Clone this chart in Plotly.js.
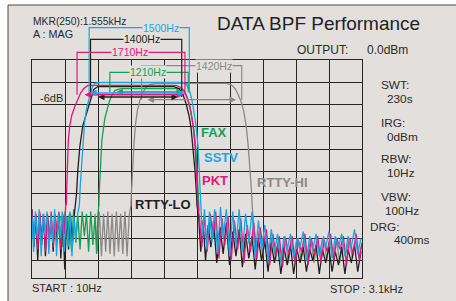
<!DOCTYPE html>
<html><head><meta charset="utf-8">
<script src="https://cdn.plot.ly/plotly-3.0.1.min.js"></script>
<style>html,body{margin:0;padding:0;background:#fff;}#chart{width:456px;height:301px;}</style>
</head><body><div id="chart"></div>
<script>
// ---- axis scale ----
const freqStart = 10, freqStop = 3100, freqDiv = 309;
const levelTop = 0, levelBottom = -97.8, levelDiv = 10;

// ---- series names / colours ----
const seriesNames = ['RTTY-HI', 'FAX', 'RTTY-LO', 'PKT', 'SSTV'];
const seriesColors = ['#8a8a8a', '#13a153', '#231f1f', '#e4157f', '#1aa6e3'];

// ---- RTTY-HI (gray) ----
const rttyHiX = [600,620,640,660,680,700,720,740,760,780,800,820,840,860,880,900,920,932,
  936,941,950,964,978,997,1020,1049,1077,1114,1161,1827,1874,1912,1940,1968,1991,2015,2034,2053,2067,2071,
  2085,2110,2140,2170,2200,2230,2260,2290,2320,2350,2380,2410,2440,2470,2500,2530,2560,2590,2620,2650,2680,2710,2740,2770,2800,2830,2860,2890,2920,2950,2980,3010,3040,3070,3100];
const rttyHiY = [-69,-86,-68,-88,-69,-86,-68,-87,-69,-88,-68,-86,-69,-87,-68,-88,-70,-66,
  -65.2,-59.9,-49.5,-38.3,-29.4,-22.6,-18.2,-14.6,-12.3,-11,-10.5,-10.5,-11,-12.8,-15.5,-18.6,-22.6,-29.4,-38.3,-49.5,-59.9,-65.2,
  -74,-86,-76,-88,-77,-87,-79,-90,-80,-88,-79,-91,-81,-89,-80,-90,-82,-88,-80,-91,-82,-87,-79,-90,-81,-88,-80,-91,-82,-87,-80,-89,-81,-88,-82];

// ---- FAX (green) ----
const faxX = [280,300,320,340,360,380,400,420,440,460,480,500,520,540,560,580,600,615,628,
  636,639,650,664,692,711,734,758,786,814,851,1396,1433,1461,1490,1508,1527,1546,1560,1569,1574];
const faxY = [-70,-84,-68,-80,-69,-86,-67,-82,-70,-85,-68,-79,-69,-86,-68,-83,-70,-87,-69,
  -65.2,-59.9,-47.3,-36.1,-26.2,-22.6,-18.6,-15.9,-13.7,-13.2,-12.8,-12.8,-13.7,-16.4,-20.9,-26.2,-31.6,-40.6,-51.8,-60.8,-67.5];

// ---- RTTY-LO (black) ----
const rttyLoX = [10,28,46,64,82,100,118,136,154,172,190,208,226,244,262,280,298,317,335,352,370,388,405,415,
  420,427,439,457,486,514,542,565,589,626,1339,1386,1424,1452,1480,1499,1518,1536,1550,1555,
  1570,1590,1612,1635,1660,1685,1710,1740,1770,1800,1830,1860,1890,1920,1950,1980,2010,2040,2070,2100,2130,2160,2190,2220,2250,2280,2310,2340,2370,2400,2430,2460,2490,2520,2550,2580,2610,2640,2670,2700,2730,2760,2790,2820,2850,2880,2910,2940,2970,3000,3030,3060,3090];
const rttyLoY = [-67,-84,-70,-90,-69,-83,-70,-88,-69,-81,-71,-86,-70,-82,-69,-89,-71,-94,-70,-85,-69,-83,-70,-66,
  -65.2,-59.9,-49.5,-39.2,-29.4,-24.9,-20.4,-16.4,-13.2,-11.9,-11.9,-12.8,-15.5,-19.5,-24.9,-30.3,-39.2,-49.5,-59.9,-65.2,
  -70,-86,-72,-90,-74,-84,-72,-91,-75,-87,-73,-92,-77,-88,-76,-93,-78,-89,-79,-94,-80,-90,-81,-95,-82,-91,-83,-96,-84,-92,-83,-96,-85,-91,-84,-95,-85,-90,-83,-96,-85,-91,-84,-95,-86,-92,-84,-96,-85,-91,-83,-95,-86];

// ---- PKT (magenta) ----
const pktX = [10,28,46,64,82,100,118,136,154,172,190,208,226,244,262,280,298,314,326,
  331,336,340,350,364,382,411,439,467,495,533,1358,1405,1443,1471,1499,1518,1536,1550,1560,1564,
  1580,1600,1625,1650,1680,1705,1730,1760,1790,1815,1845,1875,1905,1935,1965,1995,2025,2055,2085,2115,2145,2175,2205,2235,2265,2295,2325,2355,2385,2415,2445,2475,2505,2535,2565,2595,2625,2655,2685,2715,2745,2775,2805,2835,2865,2895,2925,2955,2985,3015,3045,3075,3100];
const pktY = [-68,-82,-69,-85,-68,-79,-69,-86,-70,-80,-68,-84,-69,-77,-68,-85,-69,-78,-64,
  -65.2,-56.3,-45.1,-36.1,-29.4,-24.9,-20.9,-17.3,-14.6,-12.8,-11.4,-11.4,-12.3,-14.6,-18.2,-23.5,-29.4,-38.3,-49.5,-59.9,-65.2,
  -72,-84,-70,-86,-69,-80,-68,-89,-71,-83,-70,-90,-72,-85,-71,-91,-74,-86,-73,-89,-75,-84,-76,-92,-78,-88,-79,-93,-80,-87,-79,-91,-81,-86,-78,-92,-80,-87,-79,-91,-81,-86,-78,-90,-80,-85,-79,-92,-80,-87,-78,-90,-82];

// ---- SSTV (cyan) ----
const sstvX = [10,25,42,60,78,96,114,132,150,168,186,204,222,240,258,276,294,312,330,348,366,384,402,420,438,448,
  453,462,476,490,504,523,548,570,598,645,1424,1461,1490,1508,1527,1546,1565,1579,1583,1593,
  1605,1625,1648,1672,1695,1720,1748,1775,1800,1830,1860,1890,1920,1950,1980,2010,2040,2070,2100,2130,2160,2190,2220,2250,2280,2310,2340,2370,2400,2430,2460,2490,2520,2550,2580,2610,2640,2670,2700,2730,2760,2790,2820,2850,2880,2910,2940,2970,3000,3030,3060,3090];
const sstvY = [-70,-86,-68,-80,-67,-88,-69,-78,-68,-87,-70,-82,-67,-88,-69,-80,-68,-86,-70,-84,-68,-88,-70,-81,-69,-66,
  -65.2,-56.3,-45.1,-36.1,-27.1,-21.3,-16.8,-12.8,-10.5,-10.1,-10.1,-11.4,-14.6,-18.2,-23.5,-29.4,-39.2,-51.8,-60.8,-65.2,
  -79,-67,-85,-68,-82,-67,-87,-66,-80,-67,-88,-68,-83,-67,-86,-69,-82,-68,-89,-72,-85,-74,-90,-76,-86,-78,-91,-79,-85,-78,-89,-80,-84,-77,-90,-79,-85,-78,-88,-80,-84,-77,-89,-79,-84,-78,-88,-79,-84,-76,-87,-80];

// ---- -6 dB bandwidth markers (order matches seriesNames) ----
const bwLabels   = ['1420Hz', '1210Hz', '1400Hz', '1710Hz', '1500Hz'];
const bwLeftHz   = [1036, 739, 558, 432, 545];
const bwRightHz  = [1974, 1473, 1412, 1442, 1483];
const bwLabelHz  = [1714, 1098, 1044, 927, 1217];
const bwArrowDb  = [-17.8, -14.3, -16.6, -15.6, -14.8];
const bwArrowFrom = [1077, 786, 614, 488, 540];
const bwArrowTo   = [1921, 1424, 1377, 1430, 1440];

// ---- text ----
const infoLabels = ['SWT:', 'IRG:', 'RBW:', 'VBW:', 'DRG:'];
const infoValues = ['230s', '0dBm', '10Hz', '100Hz', '400ms'];

// ================= drawing =================
const FONT = 'Liberation Sans, Arial, Helvetica, sans-serif';
const PANEL = '#e2dfdc';
const L = 32, T = 60, W = 330, H = 218;
const px = x => (x - L) / W;
const py = y => (T + H - y) / H;
const dbToPaper = d => (d - levelBottom) / (levelTop - levelBottom);

const xs = [rttyHiX, faxX, rttyLoX, pktX, sstvX];
const ys = [rttyHiY, faxY, rttyLoY, pktY, sstvY];
const traces = xs.map((x, i) => ({
  type: 'scatter', mode: 'lines', x: x, y: ys[i], name: seriesNames[i],
  line: {color: seriesColors[i], width: 1.3}, hoverinfo: 'skip', showlegend: false
}));

const bracketTopPx = [65.7, 72.3, 39.3, 52.3, 27.7];
const shapes = [{
  type: 'rect', xref: 'paper', yref: 'paper', layer: 'below',
  x0: px(8), x1: px(470), y0: py(310), y1: py(5),
  fillcolor: PANEL, line: {color: '#4a4a4a', width: 1}
}];
const annotations = [];
seriesNames.forEach((n, i) => {
  const yt = py(bracketTopPx[i]), yb = dbToPaper(bwArrowDb[i]);
  shapes.push({
    type: 'path', xref: 'x', yref: 'paper', layer: 'above',
    path: `M ${bwLeftHz[i]},${yb} L ${bwLeftHz[i]},${yt} L ${bwRightHz[i]},${yt} L ${bwRightHz[i]},${yb}`,
    line: {color: seriesColors[i], width: 1.2}
  });
  annotations.push({
    xref: 'x', yref: 'paper', x: bwLabelHz[i], y: yt, text: bwLabels[i], showarrow: false,
    bgcolor: PANEL, borderpad: 0, xanchor: 'center', yanchor: 'middle',
    font: {family: FONT, size: 10.5, color: seriesColors[i]}
  });
  annotations.push({
    xref: 'x', yref: 'y', x: bwArrowTo[i], y: bwArrowDb[i], axref: 'x', ayref: 'y',
    ax: bwArrowFrom[i], ay: bwArrowDb[i], text: '', showarrow: true, arrowside: 'end+start',
    arrowhead: 2, arrowsize: 1, arrowwidth: 1.3, arrowcolor: seriesColors[i], standoff: 0, startstandoff: 0
  });
});

function txt(t, x, y, size, color, bold, anchor) {
  annotations.push({
    xref: 'paper', yref: 'paper', x: px(x), y: py(y), text: bold ? '<b>' + t + '</b>' : t,
    showarrow: false, xanchor: anchor || 'left', yanchor: 'middle', borderpad: 0,
    font: {family: FONT, size: size, color: color}
  });
}
txt('MKR(250):1.555kHz', 32, 21.7, 10.3, '#2a2a2a');
txt('A : MAG', 32, 34.3, 10.8, '#2a2a2a');
txt('OUTPUT:', 296, 50, 12, '#2a2a2a');
txt('0.0dBm', 366, 50, 12, '#2a2a2a');
const infoLabelPos = [[380, 85.4], [380, 123.3], [380, 159.3], [380, 196.7], [369, 226.7]];
const infoValuePos = [[386, 98.8], [386, 136.5], [386, 172.7], [384, 210.7], [393, 240]];
infoLabels.forEach((t, i) => txt(t, infoLabelPos[i][0], infoLabelPos[i][1], 11.8, '#2a2a2a'));
infoValues.forEach((t, i) => txt(t, infoValuePos[i][0], infoValuePos[i][1], 11.8, '#2a2a2a'));
txt('-6dB', 39, 98, 11, '#2a2a2a');
txt('START : 10Hz', 31, 288.3, 11, '#2a2a2a');
txt('STOP : 3.1kHz', 329, 289, 11, '#2a2a2a');
txt('FAX', 200, 132.3, 13, seriesColors[1], true);
txt('SSTV', 202.5, 157.3, 13, seriesColors[4], true);
txt('PKT', 201, 180, 13, seriesColors[3], true);
txt('RTTY-HI', 255.5, 182.7, 13, seriesColors[0], true);
txt('RTTY-LO', 133.5, 204, 13, seriesColors[2], true);

const layout = {
  width: 456, height: 301,
  margin: {l: L, r: 456 - L - W, t: T, b: 301 - T - H, pad: 0},
  paper_bgcolor: '#ffffff', plot_bgcolor: 'rgba(0,0,0,0)',
  title: {text: 'DATA BPF Performance', x: px(217), xref: 'paper', xanchor: 'left',
          y: 1 - 23 / 301, yref: 'container', yanchor: 'middle',
          font: {family: FONT, size: 19, color: '#222'}},
  showlegend: false,
  xaxis: {range: [freqStart, freqStop], tick0: freqStart, dtick: freqDiv, showticklabels: false,
          ticks: '', showgrid: true, gridcolor: '#262626', gridwidth: 1, zeroline: false,
          showline: true, linecolor: '#262626', linewidth: 1, mirror: true, fixedrange: true},
  yaxis: {range: [levelBottom, levelTop], tick0: 0, dtick: levelDiv, showticklabels: false,
          ticks: '', showgrid: true, gridcolor: '#262626', gridwidth: 1, zeroline: false,
          showline: true, linecolor: '#262626', linewidth: 1, mirror: true, fixedrange: true},
  shapes: shapes, annotations: annotations
};
Plotly.newPlot('chart', traces, layout, {staticPlot: true, displayModeBar: false});
</script></body></html>
